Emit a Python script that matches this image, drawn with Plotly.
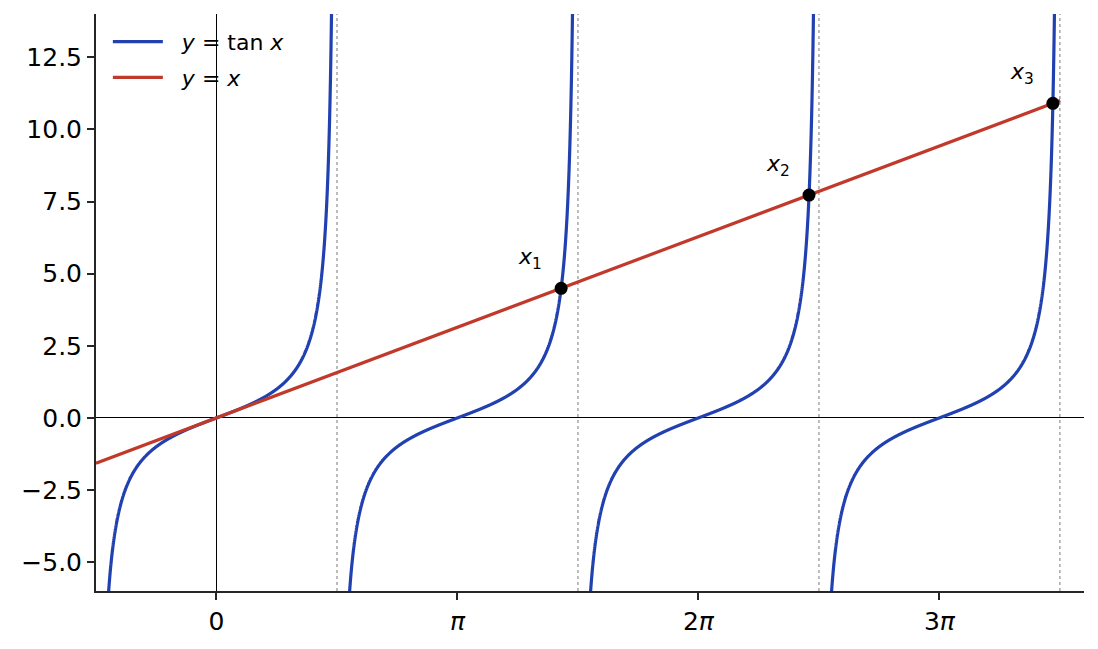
import numpy as np
import plotly.graph_objects as go

# roots of tan x = x (x_n = y_n on the line y = x)
root_x = [4.493, 7.725, 10.904]
root_labels = ['<i>x</i><sub>1</sub>', '<i>x</i><sub>2</sub>', '<i>x</i><sub>3</sub>']

# branch centres of tan x and the asymptotes between them
branch_centres = [0.0, np.pi, 2 * np.pi, 3 * np.pi]
asymptotes = [np.pi / 2, 3 * np.pi / 2, 5 * np.pi / 2, 7 * np.pi / 2]

# y = x drawn between these two x values
line_x = [-np.pi / 2, 11.0]

x_tickvals = [0, np.pi, 2 * np.pi, 3 * np.pi]
x_ticktext = ['0', '<i>π</i>', '2<i>π</i>', '3<i>π</i>']
y_tickvals = [-5.0, -2.5, 0.0, 2.5, 5.0, 7.5, 10.0, 12.5]

x_range = [-np.pi / 2, 3.6 * np.pi]
y_range = [-6, 14]

BLUE = '#2141b1'
RED = '#c0392b'
AXIS = '#262626'
FONT = 'DejaVu Sans'
PAD = '\u00a0\u00a0'


def tan_branches(centres, n=5000):
    xs, ys = [], []
    for c in centres:
        x = np.linspace(c - np.pi / 2 + 0.002, c + np.pi / 2 - 0.002, n)
        xs.extend(x.tolist())
        ys.extend(np.tan(x).tolist())
        xs.append(None)
        ys.append(None)
    return xs, ys


def main():
    tx, ty = tan_branches(branch_centres)

    fig = go.Figure()
    fig.add_trace(go.Scatter(name=PAD + '<i>y</i> = tan <i>x</i>', x=tx, y=ty, mode='lines',
                             line=dict(color=BLUE, width=3.2, simplify=False), legendgroup='a'))
    fig.add_trace(go.Scatter(name=PAD + '<i>y</i> = <i>x</i>', x=line_x, y=line_x, mode='lines',
                             line=dict(color=RED, width=3.2), legendgroup='b'))
    fig.add_trace(go.Scatter(x=root_x, y=root_x, mode='markers', showlegend=False,
                             marker=dict(color='black', size=13)))

    for a in asymptotes:
        fig.add_shape(type='line', xref='x', yref='paper', x0=a, x1=a, y0=0, y1=1,
                      line=dict(color='#999999', width=1.3, dash='dot'), layer='below')

    for rx, lab in zip(root_x, root_labels):
        fig.add_annotation(x=rx, y=rx, text=lab, showarrow=False, xshift=-31, yshift=30,
                           font=dict(family=FONT, size=22, color='black'))

    fig.update_layout(
        width=1098, height=649,
        margin=dict(l=88, r=22, t=6, b=66),
        plot_bgcolor='white', paper_bgcolor='white',
        font=dict(family=FONT, size=25, color='black'),
        legend=dict(x=0.012, y=0.988, xanchor='left', yanchor='top', bgcolor='rgba(0,0,0,0)',
                    font=dict(size=22), itemwidth=50, tracegroupgap=4, traceorder='grouped'),
    )
    fig.update_xaxes(range=x_range, tickvals=x_tickvals, ticktext=x_ticktext,
                     showgrid=False, zeroline=True, zerolinecolor='black', zerolinewidth=1.2,
                     showline=True, linecolor=AXIS, linewidth=2, ticks='outside',
                     ticklen=7, tickwidth=2, tickcolor=AXIS)
    fig.update_yaxes(range=y_range, tickvals=y_tickvals, tickformat='.1f',
                     showgrid=False, zeroline=True, zerolinecolor='black', zerolinewidth=1.2,
                     showline=True, linecolor=AXIS, linewidth=2, ticks='outside',
                     ticklen=7, tickwidth=2, tickcolor=AXIS)
    fig.write_html('out.html')


if __name__ == '__main__':
    main()
